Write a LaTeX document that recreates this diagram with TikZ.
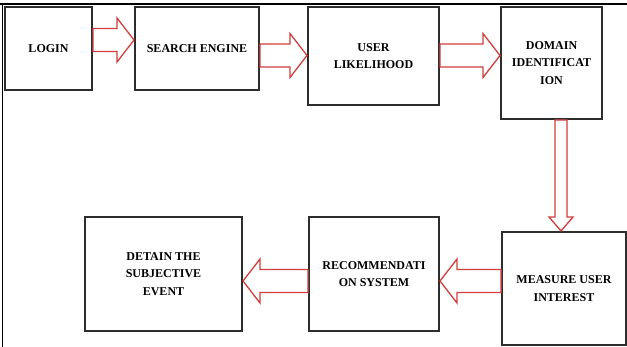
\documentclass[tikz,border=0pt]{standalone}
\usepackage{fontspec}
\setmainfont{Liberation Serif}
\usepackage{xcolor}
\usetikzlibrary{calc}

\definecolor{arrowred}{RGB}{208,62,60}
\definecolor{boxgray}{RGB}{45,45,45}

\tikzset{
  box/.style={draw=boxgray,line width=2pt,inner sep=0pt,align=center,
    font=\bfseries\fontsize{12}{17.5}\selectfont},
  blockarrow/.style={draw=arrowred,fill=white,line width=1.3pt,line join=miter},
  frame/.style={draw=black,line width=1.6pt}
}

\begin{document}
\begin{tikzpicture}[x=1pt,y=-1pt]
  \useasboundingbox (0,0) rectangle (627,347);
  % frame
  \draw[frame] (0,4) -- (627,4);
  \draw[frame] (2.5,4) -- (2.5,347);
  % top row
  \node[box,minimum width=87pt,minimum height=83pt] (login) at (48.5,48.5){LOGIN};
  \node[box,minimum width=124pt,minimum height=83pt] (search) at (197,48.5){SEARCH ENGINE};
  \node[box,minimum width=131pt,minimum height=98pt] (user) at (373.5,56){USER\\LIKELIHOOD};
  \node[box,minimum width=101pt,minimum height=112pt] (domain) at (551.5,63){DOMAIN\\IDENTIFICAT\\ION};
  % bottom row
  \node[box,minimum width=124pt,minimum height=113pt] (measure) at (564,288.5){MEASURE USER\\INTEREST};
  \node[box,minimum width=130pt,minimum height=114pt] (recomm) at (374,274){RECOMMENDATI\\ON SYSTEM};
  \node[box,minimum width=157pt,minimum height=114pt] (detain) at (163.5,274){DETAIN THE\\SUBJECTIVE\\EVENT};
  % arrow 1
  \coordinate (tip1) at ($(search.west)+(0,-8.5)$);
  \draw[blockarrow] (tip1) -- ++(-17,-22) -- ++(0,10.5) -- ($(tip1 -| login.east)+(0,-11.5)$)
    -- ++(0,23) -- ($(tip1)+(-17,11.5)$) -- ++(0,10.5) -- cycle;
  % arrow 2
  \coordinate (tip2) at ($(user.west)+(0,-0.5)$);
  \draw[blockarrow] (tip2) -- ++(-17,-22) -- ++(0,10.5) -- ($(tip2 -| search.east)+(0,-11.5)$)
    -- ++(0,23) -- ($(tip2)+(-17,11.5)$) -- ++(0,10.5) -- cycle;
  % arrow 3
  \coordinate (tip3) at ($(domain.west)+(0,-7.5)$);
  \draw[blockarrow] (tip3) -- ++(-17,-22) -- ++(0,10.5) -- ($(tip3 -| user.east)+(0,-11.5)$)
    -- ++(0,23) -- ($(tip3)+(-17,11.5)$) -- ++(0,10.5) -- cycle;
  % arrow 4 (down)
  \coordinate (tip4) at ($(measure.north)+(-3,0)$);
  \draw[blockarrow] (tip4) -- ++(-12,-14) -- ++(6,0) -- ($(tip4 |- domain.south)+(-6,0)$)
    -- ++(12,0) -- ($(tip4)+(6,-14)$) -- ++(6,0) -- cycle;
  % arrow 5
  \coordinate (tip5) at ($(recomm.east)+(0,7)$);
  \draw[blockarrow] (tip5) -- ++(17,-22) -- ++(0,10.5) -- ($(tip5 -| measure.west)+(0,-11.5)$)
    -- ++(0,23) -- ($(tip5)+(17,11.5)$) -- ++(0,10.5) -- cycle;
  % arrow 6
  \coordinate (tip6) at ($(detain.east)+(0,7)$);
  \draw[blockarrow] (tip6) -- ++(17,-22) -- ++(0,10.5) -- ($(tip6 -| recomm.west)+(0,-11.5)$)
    -- ++(0,23) -- ($(tip6)+(17,11.5)$) -- ++(0,10.5) -- cycle;
\end{tikzpicture}
\end{document}
